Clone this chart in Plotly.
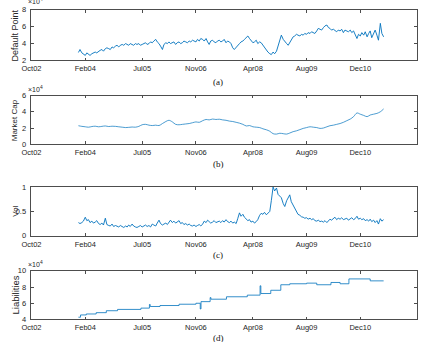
import pandas as pd
import plotly.graph_objects as go

# ---------------- data ----------------
tick_dates = ["2002-10-01", "2004-02-01", "2005-07-01", "2006-11-01",
              "2008-04-01", "2009-08-01", "2010-12-01", "2012-05-01"]
tick_labels = ["Oct02", "Feb04", "Jul05", "Nov06", "Apr08", "Aug09", "Dec10", "May12"]

# semi-monthly dates (1st and 15th), Dec 2003 .. Jul 2011
semi_dates = pd.date_range("2003-12-01", "2011-07-01", freq="SMS")
monthly_dates = pd.date_range("2003-12-01", "2011-07-01", freq="MS")

# Default point (x 10^4)
default_point = [
    2.95, 3.3,
    2.9, 2.8, 2.6, 2.9, 2.7, 2.6, 2.8, 2.9, 3.0, 2.9, 3.1, 3.2,
    3.3, 3.1, 3.4, 3.5, 3.4, 3.3, 3.6, 3.5, 3.7, 3.8, 3.6, 3.8,
    3.9, 3.8, 4.0, 3.9, 3.8, 4.0, 3.9, 3.8, 4.0, 3.9, 4.0, 3.8,
    3.9, 4.0, 4.1, 3.9, 4.0, 4.2, 4.1, 4.3, 4.5, 4.2, 4.0, 3.7,
    3.3, 3.9, 4.1, 4.0, 4.2, 4.0, 4.1, 4.2, 3.9, 4.1, 4.2, 4.0,
    4.1, 4.3, 4.2, 4.1, 4.3, 4.2, 4.4, 4.3, 4.2, 4.5, 4.3, 4.6,
    4.5, 4.3, 4.6, 4.2, 3.9, 4.3, 4.4, 4.2, 4.1, 4.3, 4.4, 4.2,
    4.3, 4.5, 4.1, 4.3, 4.2, 4.0, 3.5, 3.3, 3.6, 3.8, 4.0, 4.2,
    4.3, 4.5, 4.7, 4.9, 4.6, 4.3, 4.1, 4.2, 4.4, 4.0, 4.2, 4.1,
    3.8, 3.5, 3.2, 3.0, 2.8, 2.7, 3.0, 2.8, 3.1, 3.8, 4.6, 5.0,
    4.5, 4.2, 4.0, 3.8, 4.1, 4.4, 4.8, 4.9, 5.1, 5.0, 4.9, 5.1,
    5.0, 5.2, 5.1, 5.3, 5.2, 5.4, 5.3, 5.2, 5.5, 5.8, 5.7, 5.6,
    5.9, 6.1, 6.2, 5.9, 5.8, 5.6, 5.7, 5.5, 5.4, 5.6, 5.5, 5.7,
    5.3, 5.6, 5.5, 5.4, 5.6, 5.3, 5.5, 5.0, 4.6, 5.1, 4.9, 5.3,
    5.0, 5.4, 4.8, 5.2, 5.5, 4.7, 5.3, 5.6, 5.0, 4.4, 6.4, 5.2,
    4.8,
]

# Market cap (x 10^4), monthly
market_cap = [
    2.28,
    2.20, 2.15, 2.10, 2.18, 2.22, 2.15, 2.20, 2.25, 2.18, 2.22, 2.20, 2.15,
    2.10, 2.05, 2.08, 2.12, 2.10, 2.20, 2.40, 2.45, 2.35, 2.30, 2.35, 2.30,
    2.55, 2.80, 2.95, 2.75, 2.45, 2.40, 2.45, 2.50, 2.55, 2.65, 2.75, 2.70,
    2.90, 3.05, 3.00, 3.10, 3.05, 3.08, 3.00, 2.95, 2.85, 2.80, 2.70, 2.60,
    2.45, 2.25, 2.30, 2.15, 2.10, 2.05, 1.90, 1.78, 1.60, 1.30, 1.25, 1.35,
    1.30, 1.25, 1.38, 1.55, 1.65, 1.80, 1.95, 2.05, 2.15, 2.10, 2.05, 1.95,
    2.00, 2.15, 2.28, 2.35, 2.45, 2.55, 2.70, 2.90, 3.10, 3.40, 3.85, 3.70,
    3.55, 3.40, 3.60, 3.70, 3.80, 4.00, 4.35,
]

# Volatility, semi-monthly
vol = [
    0.27, 0.25,
    0.27, 0.30, 0.38, 0.31, 0.33, 0.27, 0.30, 0.26, 0.28, 0.31, 0.25, 0.23,
    0.26, 0.22, 0.36, 0.23, 0.21, 0.20, 0.24, 0.19, 0.21, 0.20, 0.18, 0.21,
    0.19, 0.17, 0.20, 0.18, 0.22, 0.19, 0.24, 0.20, 0.18, 0.17, 0.19, 0.21,
    0.18, 0.20, 0.22, 0.19, 0.21, 0.18, 0.24, 0.22, 0.20, 0.26, 0.32, 0.25,
    0.22, 0.24, 0.26, 0.23, 0.28, 0.32, 0.27, 0.30, 0.26, 0.28, 0.31, 0.25,
    0.27, 0.23, 0.25, 0.22, 0.24, 0.21, 0.20, 0.22, 0.19, 0.21, 0.23, 0.20,
    0.24, 0.30, 0.27, 0.32, 0.29, 0.26, 0.28, 0.31, 0.27, 0.29, 0.30, 0.27,
    0.31, 0.28, 0.33, 0.29, 0.27, 0.30, 0.26, 0.28, 0.25, 0.35, 0.47, 0.40,
    0.44, 0.38, 0.35, 0.31, 0.33, 0.28, 0.30, 0.26, 0.29, 0.33, 0.42, 0.46,
    0.44, 0.48, 0.43, 0.47, 0.50, 0.72, 1.00, 0.92, 0.98, 0.85, 0.80, 0.78,
    0.66, 0.60, 0.72, 0.80, 0.84, 0.70, 0.62, 0.55, 0.48, 0.44, 0.42, 0.39,
    0.38, 0.36, 0.37, 0.34, 0.36, 0.33, 0.35, 0.31, 0.30, 0.32, 0.29, 0.30,
    0.28, 0.31, 0.27, 0.30, 0.34, 0.32, 0.35, 0.38, 0.33, 0.36, 0.34, 0.37,
    0.33, 0.35, 0.36, 0.32, 0.34, 0.37, 0.33, 0.35, 0.40, 0.34, 0.36, 0.33,
    0.35, 0.31, 0.33, 0.30, 0.34, 0.29, 0.32, 0.27, 0.31, 0.24, 0.35, 0.30,
    0.33,
]

# Liabilities (x 10^4), step changes
liab_dates = [
    "2003-12-01", "2003-12-20", "2004-02-10", "2004-05-10", "2004-08-10",
    "2004-11-20", "2005-06-20", "2005-09-05", "2005-09-12", "2005-12-10",
    "2006-06-01", "2006-11-01", "2006-12-10", "2006-12-17", "2007-03-10",
    "2007-03-17", "2007-08-05", "2008-02-10", "2008-06-05", "2008-06-12",
    "2008-09-10", "2008-12-10", "2009-03-01", "2009-08-01", "2009-11-01",
    "2010-03-10", "2010-06-01", "2010-08-20", "2011-03-01", "2011-07-01",
]
liabilities = [
    4.28, 4.56, 4.68, 4.84, 5.08,
    5.24, 5.40, 5.85, 5.60, 5.72,
    5.88, 6.00, 5.30, 6.20, 6.70,
    6.50, 6.80, 7.00, 8.15, 7.20,
    7.60, 8.28, 8.40, 8.48, 8.28,
    8.56, 8.40, 9.00, 8.76, 8.76,
]

panels = [
    dict(x=semi_dates, y=default_point, title="Default Point", tsize=9,
         yr=[2, 8], yt=[2, 4, 6, 8], ytt=["2", "4", "6", "8"], exp=True, expdy=3,
         dom=[0.8304, 0.9825], cap="(a)", capy=80, shape="linear", w=0.9),
    dict(x=monthly_dates, y=market_cap, title="Market Cap", tsize=8,
         yr=[0, 6], yt=[0, 2, 4, 6], ytt=["0", "2", "4", "6"], exp=True, expdy=0.5,
         dom=[0.5789, 0.7251], cap="(b)", capy=164, shape="spline", w=0.7),
    dict(x=semi_dates, y=vol, title="Vol", tsize=8,
         yr=[0, 1], yt=[0, 0.5, 1], ytt=["0", "0.5", "1"], exp=False, expdy=0,
         dom=[0.3041, 0.4503], cap="(c)", capy=258, shape="linear", w=0.9),
    dict(x=pd.to_datetime(liab_dates), y=liabilities, title="Liabilities", tsize=9.5,
         yr=[4, 10], yt=[4, 6, 8, 10], ytt=["4", "6", "8", "10"], exp=True, expdy=0.5,
         dom=[0.0526, 0.1988], cap="(d)", capy=343, shape="hv", w=0.8),
]

W, H = 428, 342
AX = "#4d4d4d"
TXT = "#262626"
LINE = "rgb(0,114,189)"
SANS = "Liberation Sans, Arial, sans-serif"

fig = go.Figure()
annotations = []
layout = {}
for i, p in enumerate(panels, start=1):
    sfx = "" if i == 1 else str(i)
    fig.add_trace(go.Scatter(
        x=p["x"], y=p["y"], mode="lines",
        line=dict(color=LINE, width=p["w"], shape=p["shape"]),
        xaxis="x" + sfx, yaxis="y" + sfx, showlegend=False,
        hoverinfo="skip"))
    layout["xaxis" + sfx] = dict(
        domain=[22 / W, 417 / W], anchor="y" + sfx, type="date",
        range=["2002-10-01", "2012-05-01"],
        tickvals=tick_dates, ticktext=tick_labels,
        ticks="inside", ticklen=3, tickwidth=0.8, tickcolor=AX,
        showline=True, linecolor=AX, linewidth=0.8, mirror="ticks",
        showgrid=False, zeroline=False, ticklabelstandoff=1,
        tickfont=dict(family=SANS, size=7.5, color=TXT))
    layout["yaxis" + sfx] = dict(
        domain=p["dom"], anchor="x" + sfx, range=p["yr"],
        tickvals=p["yt"], ticktext=p["ytt"],
        ticks="inside", ticklen=3, tickwidth=0.8, tickcolor=AX,
        showline=True, linecolor=AX, linewidth=0.8, mirror="ticks",
        showgrid=False, zeroline=False, ticklabelstandoff=3,
        tickfont=dict(family=SANS, size=7.5, color=TXT))
    top = p["dom"][1]
    mid = (p["dom"][0] + p["dom"][1]) / 2
    annotations.append(dict(
        text=p["title"], xref="paper", yref="paper", x=5.5 / W, y=mid,
        textangle=-90, showarrow=False, xanchor="center", yanchor="middle",
        font=dict(family=SANS, size=p["tsize"], color=TXT)))
    if p["exp"]:
        annotations.append(dict(
            text="×10<sup>4</sup>", xref="paper", yref="paper",
            x=16 / W, y=top + p["expdy"] / H, xanchor="left", yanchor="bottom",
            showarrow=False, font=dict(family=SANS, size=7, color=TXT)))
    annotations.append(dict(
        text=p["cap"], xref="paper", yref="paper", x=213 / W,
        y=1 - p["capy"] / H, xanchor="center", yanchor="middle",
        showarrow=False,
        font=dict(family="Liberation Serif, Times New Roman, serif", size=9, color="#111")))

fig.update_layout(
    width=W, height=H, margin=dict(l=0, r=0, t=0, b=0),
    paper_bgcolor="white", plot_bgcolor="white",
    annotations=annotations, **layout)

fig.write_html("out.html")
